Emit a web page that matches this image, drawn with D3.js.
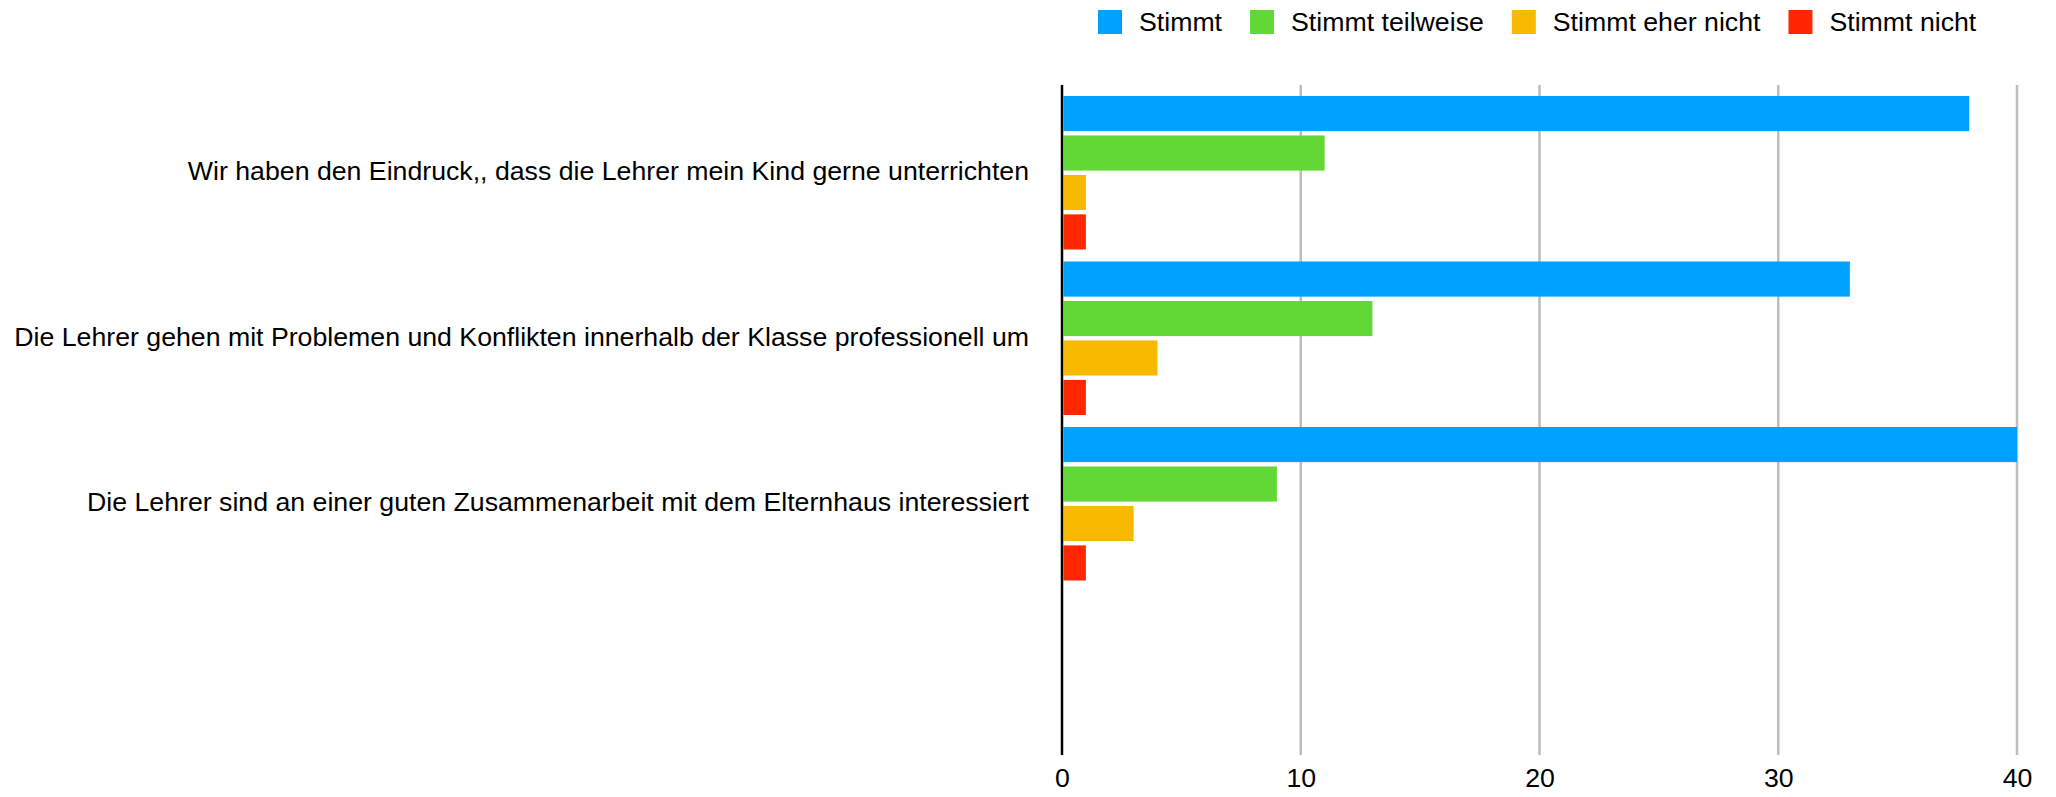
<!DOCTYPE html>
<html>
<head>
<meta charset="utf-8">
<script src="https://cdn.jsdelivr.net/npm/d3@7"></script>
<style>
html,body{margin:0;padding:0;background:#fff;}
text{font-family:"Liberation Sans",Arial,Helvetica,sans-serif;fill:#000;}
</style>
</head>
<body>
<svg id="chart" width="2056" height="797"></svg>
<script>
const categories = [
  "Wir haben den Eindruck,, dass die Lehrer mein Kind gerne unterrichten",
  "Die Lehrer gehen mit Problemen und Konflikten innerhalb der Klasse professionell um",
  "Die Lehrer sind an einer guten Zusammenarbeit mit dem Elternhaus interessiert",
  ""
];
const seriesNames = ["Stimmt", "Stimmt teilweise", "Stimmt eher nicht", "Stimmt nicht"];
const stimmt = [38, 33, 40];
const stimmtTeilweise = [11, 13, 9];
const stimmtEherNicht = [1, 4, 3];
const stimmtNicht = [1, 1, 1];
const seriesColors = ["#00A2FF", "#61D836", "#F8BA00", "#FF2600"];
const tickValues = [0, 10, 20, 30, 40];

const seriesValues = [stimmt, stimmtTeilweise, stimmtEherNicht, stimmtNicht];
const FONT = "26.7px";

const svg = d3.select("#chart");
const plotTop = 85, plotBottom = 755;

const x = d3.scaleLinear().domain([0, 40]).range([1062, 2017]);
const y0 = d3.scaleBand().domain(categories).range([90, 752]).padding(0);
const y1 = d3.scaleBand().domain(seriesNames).range([6, y0.bandwidth() - 6]).paddingInner(0.11).paddingOuter(0);
const color = d3.scaleOrdinal().domain(seriesNames).range(seriesColors);

// grid lines
svg.append("g").selectAll("line")
  .data(tickValues.filter(d => d > 0))
  .join("line")
  .attr("x1", d => x(d)).attr("x2", d => x(d))
  .attr("y1", plotTop).attr("y2", plotBottom)
  .attr("stroke", "#bdbdbd").attr("stroke-width", 2.5);

// bars
const rows = [];
categories.slice(0, 3).forEach((c, i) => {
  seriesNames.forEach((s, j) => rows.push({cat: c, series: s, value: seriesValues[j][i]}));
});
svg.append("g").selectAll("rect")
  .data(rows)
  .join("rect")
  .attr("x", x(0) + 1.5)
  .attr("y", d => y0(d.cat) + y1(d.series))
  .attr("width", d => x(d.value) - x(0) - 1.5)
  .attr("height", y1.bandwidth())
  .attr("fill", d => color(d.series));

// y axis line
svg.append("line")
  .attr("x1", x(0)).attr("x2", x(0))
  .attr("y1", plotTop).attr("y2", plotBottom)
  .attr("stroke", "#000").attr("stroke-width", 2.5);

// x axis tick labels
const xAxis = d3.axisBottom(x).tickValues(tickValues).tickSize(0).tickPadding(0).tickFormat(d3.format("d"));
const gx = svg.append("g").attr("transform", `translate(0,${plotBottom})`).call(xAxis);
gx.select(".domain").remove();
gx.selectAll("text")
  .attr("y", 23).attr("dy", "0.35em")
  .style("font-family", '"Liberation Sans",Arial,Helvetica,sans-serif')
  .style("font-size", FONT).attr("fill", "#000");

// category labels
svg.append("g").selectAll("text")
  .data(categories.slice(0, 3))
  .join("text")
  .attr("x", 1029)
  .attr("y", d => y0(d) + y0.bandwidth() / 2 - 2)
  .attr("dy", "0.35em")
  .attr("text-anchor", "end")
  .style("font-size", FONT)
  .text(d => d);

// legend
const lg = svg.append("g").selectAll("g")
  .data(seriesNames)
  .join("g");
lg.append("rect").attr("y", 10).attr("width", 24).attr("height", 24).attr("fill", d => color(d));
lg.append("text").attr("x", 41).attr("y", 22).attr("dy", "0.35em")
  .style("font-size", FONT).text(d => d);
let lx = 1098;
lg.each(function() {
  const g = d3.select(this);
  g.attr("transform", `translate(${lx},0)`);
  const w = g.select("text").node().getComputedTextLength();
  lx += 41 + w + 28;
});
</script>
</body>
</html>
